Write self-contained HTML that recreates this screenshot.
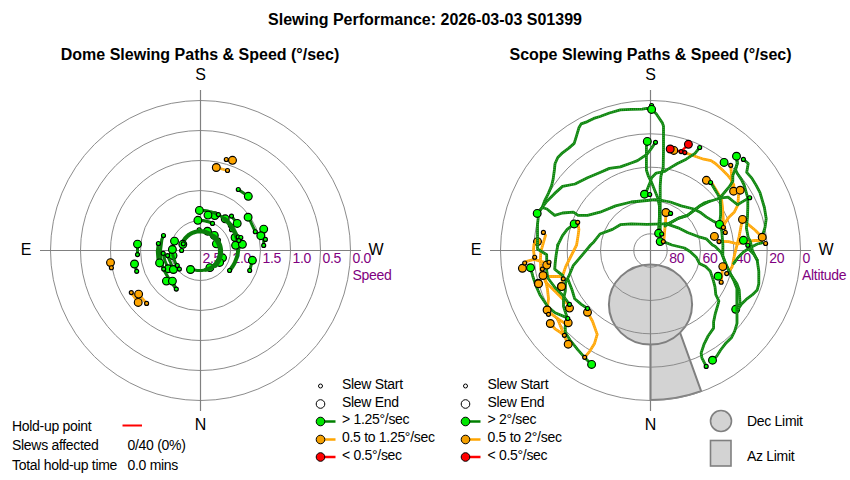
<!DOCTYPE html>
<html><head><meta charset="utf-8"><style>
html,body{margin:0;padding:0;background:#fff;}
svg{display:block;font-family:"Liberation Sans", Arial, sans-serif;}
</style></head><body>
<svg width="850" height="480" viewBox="0 0 850 480">
<rect width="850" height="480" fill="#fff"/>
<path d="M650.50,400.00 A149.5,149.5 0 0,0 701.14,391.16 L670.82,306.95 A60,60 0 0,1 650.50,310.50 Z" fill="#d3d3d3" stroke="#808080" stroke-width="2"/>
<ellipse cx="650.5" cy="304.5" rx="41.6" ry="40.1" fill="#d3d3d3" stroke="#808080" stroke-width="2"/>
<circle cx="200.5" cy="250.5" r="30" fill="none" stroke="#8c8c8c" stroke-width="1"/>
<circle cx="200.5" cy="250.5" r="60" fill="none" stroke="#8c8c8c" stroke-width="1"/>
<circle cx="200.5" cy="250.5" r="90" fill="none" stroke="#8c8c8c" stroke-width="1"/>
<circle cx="200.5" cy="250.5" r="120" fill="none" stroke="#8c8c8c" stroke-width="1"/>
<circle cx="200.5" cy="250.5" r="150" fill="none" stroke="#8c8c8c" stroke-width="1"/>
<line x1="40" y1="250.5" x2="361" y2="250.5" stroke="#808080" stroke-width="1.2"/>
<line x1="200.5" y1="90" x2="200.5" y2="411" stroke="#808080" stroke-width="1.2"/>
<circle cx="650.5" cy="250.5" r="16.7" fill="none" stroke="#8c8c8c" stroke-width="1"/>
<circle cx="650.5" cy="250.5" r="50" fill="none" stroke="#8c8c8c" stroke-width="1"/>
<circle cx="650.5" cy="250.5" r="83.3" fill="none" stroke="#8c8c8c" stroke-width="1"/>
<circle cx="650.5" cy="250.5" r="116.7" fill="none" stroke="#8c8c8c" stroke-width="1"/>
<circle cx="650.5" cy="250.5" r="150" fill="none" stroke="#8c8c8c" stroke-width="1"/>
<line x1="490" y1="250.5" x2="811" y2="250.5" stroke="#808080" stroke-width="1.2"/>
<line x1="650.5" y1="90" x2="650.5" y2="411" stroke="#808080" stroke-width="1.2"/>
<text x="425" y="25" font-size="16" fill="#000" font-weight="bold" text-anchor="middle" >Slewing Performance: 2026-03-03 S01399</text>
<text x="200" y="60" font-size="16" fill="#000" font-weight="bold" text-anchor="middle" >Dome Slewing Paths &amp; Speed (°/sec)</text>
<text x="650.5" y="60" font-size="16" fill="#000" font-weight="bold" text-anchor="middle" >Scope Slewing Paths &amp; Speed (°/sec)</text>
<text x="200.5" y="80" font-size="16" fill="#000" font-weight="normal" text-anchor="middle" >S</text>
<text x="200.5" y="430" font-size="16" fill="#000" font-weight="normal" text-anchor="middle" >N</text>
<text x="650.5" y="80" font-size="16" fill="#000" font-weight="normal" text-anchor="middle" >S</text>
<text x="650.5" y="430" font-size="16" fill="#000" font-weight="normal" text-anchor="middle" >N</text>
<text x="26" y="255" font-size="16" fill="#000" font-weight="normal" text-anchor="middle" >E</text>
<text x="376" y="255" font-size="16" fill="#000" font-weight="normal" text-anchor="middle" >W</text>
<text x="476" y="255" font-size="16" fill="#000" font-weight="normal" text-anchor="middle" >E</text>
<text x="826" y="255" font-size="16" fill="#000" font-weight="normal" text-anchor="middle" >W</text>
<text x="202.5" y="263" font-size="14" fill="#800080" font-weight="normal" text-anchor="start"  letter-spacing="-0.3">2.5</text>
<text x="232.5" y="263" font-size="14" fill="#800080" font-weight="normal" text-anchor="start"  letter-spacing="-0.3">2.0</text>
<text x="262.5" y="263" font-size="14" fill="#800080" font-weight="normal" text-anchor="start"  letter-spacing="-0.3">1.5</text>
<text x="292.5" y="263" font-size="14" fill="#800080" font-weight="normal" text-anchor="start"  letter-spacing="-0.3">1.0</text>
<text x="322.5" y="263" font-size="14" fill="#800080" font-weight="normal" text-anchor="start"  letter-spacing="-0.3">0.5</text>
<text x="352.5" y="263" font-size="14" fill="#800080" font-weight="normal" text-anchor="start"  letter-spacing="-0.3">0.0</text>
<text x="352.5" y="280" font-size="14" fill="#800080" font-weight="normal" text-anchor="start"  letter-spacing="-0.3">Speed</text>
<text x="669.2" y="263" font-size="14" fill="#800080" font-weight="normal" text-anchor="start"  letter-spacing="-0.3">80</text>
<text x="702.5" y="263" font-size="14" fill="#800080" font-weight="normal" text-anchor="start"  letter-spacing="-0.3">60</text>
<text x="735.8" y="263" font-size="14" fill="#800080" font-weight="normal" text-anchor="start"  letter-spacing="-0.3">40</text>
<text x="769.2" y="263" font-size="14" fill="#800080" font-weight="normal" text-anchor="start"  letter-spacing="-0.3">20</text>
<text x="802.5" y="263" font-size="14" fill="#800080" font-weight="normal" text-anchor="start"  letter-spacing="-0.3">0</text>
<text x="802" y="280" font-size="14" fill="#800080" font-weight="normal" text-anchor="start"  letter-spacing="-0.3">Altitude</text>
<circle cx="320.5" cy="386" r="2" fill="#fff" stroke="#000" stroke-width="1"/>
<circle cx="320.5" cy="404" r="4.3" fill="#fff" stroke="#000" stroke-width="1"/>
<line x1="320.5" y1="421.5" x2="335.5" y2="421.5" stroke="#008000" stroke-width="2.5"/>
<circle cx="320.5" cy="421.5" r="4.3" fill="#00e600" stroke="#000" stroke-width="1"/>
<line x1="320.5" y1="439.5" x2="335.5" y2="439.5" stroke="#ffa500" stroke-width="2.5"/>
<circle cx="320.5" cy="439.5" r="4.3" fill="#f5a000" stroke="#000" stroke-width="1"/>
<line x1="320.5" y1="457" x2="335.5" y2="457" stroke="#ff0000" stroke-width="2.5"/>
<circle cx="320.5" cy="457" r="4.3" fill="#ff0000" stroke="#000" stroke-width="1"/>
<text x="342" y="388.5" font-size="14" fill="#000" font-weight="normal" text-anchor="start"  letter-spacing="-0.3">Slew Start</text>
<text x="342" y="406.5" font-size="14" fill="#000" font-weight="normal" text-anchor="start"  letter-spacing="-0.3">Slew End</text>
<text x="342" y="424.0" font-size="14" fill="#000" font-weight="normal" text-anchor="start"  letter-spacing="-0.3">&gt; 1.25°/sec</text>
<text x="342" y="442.0" font-size="14" fill="#000" font-weight="normal" text-anchor="start"  letter-spacing="-0.3">0.5 to 1.25°/sec</text>
<text x="342" y="459.5" font-size="14" fill="#000" font-weight="normal" text-anchor="start"  letter-spacing="-0.3">&lt; 0.5°/sec</text>
<circle cx="465.5" cy="386" r="2" fill="#fff" stroke="#000" stroke-width="1"/>
<circle cx="465.5" cy="404" r="4.3" fill="#fff" stroke="#000" stroke-width="1"/>
<line x1="465.5" y1="421.5" x2="480.5" y2="421.5" stroke="#008000" stroke-width="2.5"/>
<circle cx="465.5" cy="421.5" r="4.3" fill="#00e600" stroke="#000" stroke-width="1"/>
<line x1="465.5" y1="439.5" x2="480.5" y2="439.5" stroke="#ffa500" stroke-width="2.5"/>
<circle cx="465.5" cy="439.5" r="4.3" fill="#f5a000" stroke="#000" stroke-width="1"/>
<line x1="465.5" y1="457" x2="480.5" y2="457" stroke="#ff0000" stroke-width="2.5"/>
<circle cx="465.5" cy="457" r="4.3" fill="#ff0000" stroke="#000" stroke-width="1"/>
<text x="487.5" y="388.5" font-size="14" fill="#000" font-weight="normal" text-anchor="start"  letter-spacing="-0.3">Slew Start</text>
<text x="487.5" y="406.5" font-size="14" fill="#000" font-weight="normal" text-anchor="start"  letter-spacing="-0.3">Slew End</text>
<text x="487.5" y="424.0" font-size="14" fill="#000" font-weight="normal" text-anchor="start"  letter-spacing="-0.3">&gt; 2°/sec</text>
<text x="487.5" y="442.0" font-size="14" fill="#000" font-weight="normal" text-anchor="start"  letter-spacing="-0.3">0.5 to 2°/sec</text>
<text x="487.5" y="459.5" font-size="14" fill="#000" font-weight="normal" text-anchor="start"  letter-spacing="-0.3">&lt; 0.5°/sec</text>
<circle cx="721" cy="421" r="10.5" fill="#d3d3d3" stroke="#808080" stroke-width="1.6"/>
<rect x="710.5" y="440.5" width="20.5" height="25.5" fill="#d3d3d3" stroke="#808080" stroke-width="1.6"/>
<text x="747" y="425.5" font-size="14" fill="#000" font-weight="normal" text-anchor="start"  letter-spacing="-0.3">Dec Limit</text>
<text x="747" y="461" font-size="14" fill="#000" font-weight="normal" text-anchor="start"  letter-spacing="-0.3">Az Limit</text>
<text x="12" y="430.5" font-size="14" fill="#000" font-weight="normal" text-anchor="start"  letter-spacing="-0.3">Hold-up point</text>
<line x1="122.5" y1="425.5" x2="142" y2="425.5" stroke="#ff0000" stroke-width="2"/>
<text x="12" y="450" font-size="14" fill="#000" font-weight="normal" text-anchor="start"  letter-spacing="-0.3">Slews affected</text>
<text x="127.5" y="450" font-size="14" fill="#000" font-weight="normal" text-anchor="start"  letter-spacing="-0.3">0/40 (0%)</text>
<text x="12" y="470" font-size="14" fill="#000" font-weight="normal" text-anchor="start"  letter-spacing="-0.3">Total hold-up time</text>
<text x="127.5" y="470" font-size="14" fill="#000" font-weight="normal" text-anchor="start"  letter-spacing="-0.3">0.0 mins</text>
<circle cx="651.6" cy="105.5" r="2" fill="#00ff00" stroke="#000" stroke-width="1.15"/>
<circle cx="199.2" cy="229.7" r="2" fill="#00ff00" stroke="#000" stroke-width="1.15"/>
<circle cx="218.4" cy="240.1" r="2" fill="#00ff00" stroke="#000" stroke-width="1.15"/>
<circle cx="208.7" cy="267.0" r="2" fill="#00ff00" stroke="#000" stroke-width="1.15"/>
<circle cx="230.4" cy="225.5" r="2" fill="#00ff00" stroke="#000" stroke-width="1.15"/>
<circle cx="231.5" cy="229.7" r="2" fill="#00ff00" stroke="#000" stroke-width="1.15"/>
<circle cx="173.0" cy="255.6" r="3.9" fill="#00ff00" stroke="#000" stroke-width="1.15"/>
<circle cx="207.5" cy="231.2" r="3.9" fill="#00ff00" stroke="#000" stroke-width="1.15"/>
<circle cx="214.3" cy="235.4" r="3.9" fill="#00ff00" stroke="#000" stroke-width="1.15"/>
<circle cx="216.4" cy="243.8" r="3.9" fill="#00ff00" stroke="#000" stroke-width="1.15"/>
<circle cx="222.5" cy="257.8" r="3.9" fill="#00ff00" stroke="#000" stroke-width="1.15"/>
<circle cx="219.6" cy="262.4" r="3.9" fill="#00ff00" stroke="#000" stroke-width="1.15"/>
<circle cx="209.9" cy="267.6" r="3.9" fill="#00ff00" stroke="#000" stroke-width="1.15"/>
<circle cx="225.2" cy="218.8" r="3.9" fill="#00ff00" stroke="#000" stroke-width="1.15"/>
<circle cx="235.1" cy="237.5" r="3.9" fill="#00ff00" stroke="#000" stroke-width="1.15"/>
<circle cx="214.8" cy="215.6" r="3.9" fill="#00ff00" stroke="#000" stroke-width="1.15"/>
<circle cx="537.5" cy="241.6" r="3.9" fill="#ffa500" stroke="#000" stroke-width="1.15"/>
<circle cx="735.7" cy="309.3" r="3.9" fill="#00ff00" stroke="#000" stroke-width="1.15"/>
<polyline points="216.3,167.5 227.5,170.5" fill="none" stroke="#ffa500" stroke-width="2.8" stroke-linecap="round" stroke-linejoin="round"/><polyline points="216.3,167.5 227.5,170.5" fill="none" stroke="#ffd27a" stroke-opacity="0.55" stroke-width="1.7999999999999998" stroke-dasharray="0.7 1.3"/>
<polyline points="226.3,159.5 232.5,160.3" fill="none" stroke="#ffa500" stroke-width="2.8" stroke-linecap="round" stroke-linejoin="round"/><polyline points="226.3,159.5 232.5,160.3" fill="none" stroke="#ffd27a" stroke-opacity="0.55" stroke-width="1.7999999999999998" stroke-dasharray="0.7 1.3"/>
<polyline points="131.3,292.6 138.2,302.4" fill="none" stroke="#ffa500" stroke-width="2.8" stroke-linecap="round" stroke-linejoin="round"/><polyline points="131.3,292.6 138.2,302.4" fill="none" stroke="#ffd27a" stroke-opacity="0.55" stroke-width="1.7999999999999998" stroke-dasharray="0.7 1.3"/>
<polyline points="138.6,294.1 146.6,303.4" fill="none" stroke="#ffa500" stroke-width="2.8" stroke-linecap="round" stroke-linejoin="round"/><polyline points="138.6,294.1 146.6,303.4" fill="none" stroke="#ffd27a" stroke-opacity="0.55" stroke-width="1.7999999999999998" stroke-dasharray="0.7 1.3"/>
<polyline points="110.5,262.6 111.4,267.7" fill="none" stroke="#ffa500" stroke-width="2.8" stroke-linecap="round" stroke-linejoin="round"/><polyline points="110.5,262.6 111.4,267.7" fill="none" stroke="#ffd27a" stroke-opacity="0.55" stroke-width="1.7999999999999998" stroke-dasharray="0.7 1.3"/>
<polyline points="684.8,152.6 695.0,156.2 703.7,159.2 711.0,160.6 715.4,163.5 722.5,170.0 727.2,174.7 731.0,179.4 733.8,185.0 734.2,191.4" fill="none" stroke="#ffa500" stroke-width="2.8" stroke-linecap="round" stroke-linejoin="round"/><polyline points="684.8,152.6 695.0,156.2 703.7,159.2 711.0,160.6 715.4,163.5 722.5,170.0 727.2,174.7 731.0,179.4 733.8,185.0 734.2,191.4" fill="none" stroke="#ffd27a" stroke-opacity="0.55" stroke-width="1.7999999999999998" stroke-dasharray="0.7 1.3"/>
<polyline points="730.7,165.3 731.4,173.7 732.2,185.4 733.6,191.2" fill="none" stroke="#ffa500" stroke-width="2.8" stroke-linecap="round" stroke-linejoin="round"/><polyline points="730.7,165.3 731.4,173.7 732.2,185.4 733.6,191.2" fill="none" stroke="#ffd27a" stroke-opacity="0.55" stroke-width="1.7999999999999998" stroke-dasharray="0.7 1.3"/>
<polyline points="740.3,190.5 738.5,195.3 738.0,202.8 737.8,205.0 734.4,211.9 728.6,217.6 724.0,224.5 723.5,227.3" fill="none" stroke="#ffa500" stroke-width="2.8" stroke-linecap="round" stroke-linejoin="round"/><polyline points="740.3,190.5 738.5,195.3 738.0,202.8 737.8,205.0 734.4,211.9 728.6,217.6 724.0,224.5 723.5,227.3" fill="none" stroke="#ffd27a" stroke-opacity="0.55" stroke-width="1.7999999999999998" stroke-dasharray="0.7 1.3"/>
<polyline points="712.5,184.0 718.8,194.4 721.6,200.0 722.5,207.5 723.0,215.0 723.4,222.0 725.8,232.5" fill="none" stroke="#ffa500" stroke-width="2.8" stroke-linecap="round" stroke-linejoin="round"/><polyline points="712.5,184.0 718.8,194.4 721.6,200.0 722.5,207.5 723.0,215.0 723.4,222.0 725.8,232.5" fill="none" stroke="#ffd27a" stroke-opacity="0.55" stroke-width="1.7999999999999998" stroke-dasharray="0.7 1.3"/>
<polyline points="742.5,219.4 747.5,223.8 755.0,230.0 762.2,237.2" fill="none" stroke="#ffa500" stroke-width="2.8" stroke-linecap="round" stroke-linejoin="round"/><polyline points="742.5,219.4 747.5,223.8 755.0,230.0 762.2,237.2" fill="none" stroke="#ffd27a" stroke-opacity="0.55" stroke-width="1.7999999999999998" stroke-dasharray="0.7 1.3"/>
<polyline points="742.4,219.3 740.7,227.9 739.0,237.1 736.7,246.2 734.4,255.4 732.2,266.6 727.5,273.6" fill="none" stroke="#ffa500" stroke-width="2.8" stroke-linecap="round" stroke-linejoin="round"/><polyline points="742.4,219.3 740.7,227.9 739.0,237.1 736.7,246.2 734.4,255.4 732.2,266.6 727.5,273.6" fill="none" stroke="#ffd27a" stroke-opacity="0.55" stroke-width="1.7999999999999998" stroke-dasharray="0.7 1.3"/>
<polyline points="719.5,241.4 728.6,241.7 737.8,244.0 745.8,241.7 755.0,240.5 761.9,240.5" fill="none" stroke="#ffa500" stroke-width="2.8" stroke-linecap="round" stroke-linejoin="round"/><polyline points="719.5,241.4 728.6,241.7 737.8,244.0 745.8,241.7 755.0,240.5 761.9,240.5" fill="none" stroke="#ffd27a" stroke-opacity="0.55" stroke-width="1.7999999999999998" stroke-dasharray="0.7 1.3"/>
<polyline points="722.8,266.6 721.2,282.2" fill="none" stroke="#ffa500" stroke-width="2.8" stroke-linecap="round" stroke-linejoin="round"/><polyline points="722.8,266.6 721.2,282.2" fill="none" stroke="#ffd27a" stroke-opacity="0.55" stroke-width="1.7999999999999998" stroke-dasharray="0.7 1.3"/>
<polyline points="665.9,212.5 665.6,221.6 664.8,229.4 664.0,238.8 663.3,241.6" fill="none" stroke="#ffa500" stroke-width="2.8" stroke-linecap="round" stroke-linejoin="round"/><polyline points="665.9,212.5 665.6,221.6 664.8,229.4 664.0,238.8 663.3,241.6" fill="none" stroke="#ffd27a" stroke-opacity="0.55" stroke-width="1.7999999999999998" stroke-dasharray="0.7 1.3"/>
<polyline points="577.7,222.3 578.9,229.4 578.1,235.6 576.6,245.0 570.3,257.5 565.6,266.9 562.5,276.2 561.6,286.6" fill="none" stroke="#ffa500" stroke-width="2.8" stroke-linecap="round" stroke-linejoin="round"/><polyline points="577.7,222.3 578.9,229.4 578.1,235.6 576.6,245.0 570.3,257.5 565.6,266.9 562.5,276.2 561.6,286.6" fill="none" stroke="#ffd27a" stroke-opacity="0.55" stroke-width="1.7999999999999998" stroke-dasharray="0.7 1.3"/>
<polyline points="543.4,232.4 545.5,235.3 543.2,243.3 540.9,251.3 540.4,259.4 540.9,270.8 545.6,281.9 555.0,291.2 562.5,298.8 568.2,304.4 569.5,308.1" fill="none" stroke="#ffa500" stroke-width="2.8" stroke-linecap="round" stroke-linejoin="round"/><polyline points="543.4,232.4 545.5,235.3 543.2,243.3 540.9,251.3 540.4,259.4 540.9,270.8 545.6,281.9 555.0,291.2 562.5,298.8 568.2,304.4 569.5,308.1" fill="none" stroke="#ffd27a" stroke-opacity="0.55" stroke-width="1.7999999999999998" stroke-dasharray="0.7 1.3"/>
<polyline points="545.6,280.0 547.5,289.4 548.5,298.8 547.1,310.0" fill="none" stroke="#ffa500" stroke-width="2.8" stroke-linecap="round" stroke-linejoin="round"/><polyline points="545.6,280.0 547.5,289.4 548.5,298.8 547.1,310.0" fill="none" stroke="#ffd27a" stroke-opacity="0.55" stroke-width="1.7999999999999998" stroke-dasharray="0.7 1.3"/>
<polyline points="534.4,257.4 533.5,250.0 534.0,244.5" fill="none" stroke="#ffa500" stroke-width="2.8" stroke-linecap="round" stroke-linejoin="round"/><polyline points="534.4,257.4 533.5,250.0 534.0,244.5" fill="none" stroke="#ffd27a" stroke-opacity="0.55" stroke-width="1.7999999999999998" stroke-dasharray="0.7 1.3"/>
<polyline points="526.0,261.7 534.0,259.4 542.0,261.7 547.8,262.8" fill="none" stroke="#ffa500" stroke-width="2.8" stroke-linecap="round" stroke-linejoin="round"/><polyline points="526.0,261.7 534.0,259.4 542.0,261.7 547.8,262.8" fill="none" stroke="#ffd27a" stroke-opacity="0.55" stroke-width="1.7999999999999998" stroke-dasharray="0.7 1.3"/>
<polyline points="547.8,276.5 562.7,276.5" fill="none" stroke="#ffa500" stroke-width="2.8" stroke-linecap="round" stroke-linejoin="round"/><polyline points="547.8,276.5 562.7,276.5" fill="none" stroke="#ffd27a" stroke-opacity="0.55" stroke-width="1.7999999999999998" stroke-dasharray="0.7 1.3"/>
<polyline points="550.3,323.5 555.0,328.8 560.6,332.5 564.4,335.3" fill="none" stroke="#ffa500" stroke-width="2.8" stroke-linecap="round" stroke-linejoin="round"/><polyline points="550.3,323.5 555.0,328.8 560.6,332.5 564.4,335.3" fill="none" stroke="#ffd27a" stroke-opacity="0.55" stroke-width="1.7999999999999998" stroke-dasharray="0.7 1.3"/>
<polyline points="551.3,313.8 558.8,319.4 564.4,323.0 568.2,322.8" fill="none" stroke="#ffa500" stroke-width="2.8" stroke-linecap="round" stroke-linejoin="round"/><polyline points="551.3,313.8 558.8,319.4 564.4,323.0 568.2,322.8" fill="none" stroke="#ffd27a" stroke-opacity="0.55" stroke-width="1.7999999999999998" stroke-dasharray="0.7 1.3"/>
<polyline points="557.8,319.4 561.6,328.8 565.3,338.2 568.2,344.2" fill="none" stroke="#ffa500" stroke-width="2.8" stroke-linecap="round" stroke-linejoin="round"/><polyline points="557.8,319.4 561.6,328.8 565.3,338.2 568.2,344.2" fill="none" stroke="#ffd27a" stroke-opacity="0.55" stroke-width="1.7999999999999998" stroke-dasharray="0.7 1.3"/>
<polyline points="587.5,312.3 592.5,321.3 597.2,334.4 594.4,343.8 589.7,351.3 584.7,357.3" fill="none" stroke="#ffa500" stroke-width="2.8" stroke-linecap="round" stroke-linejoin="round"/><polyline points="587.5,312.3 592.5,321.3 597.2,334.4 594.4,343.8 589.7,351.3 584.7,357.3" fill="none" stroke="#ffd27a" stroke-opacity="0.55" stroke-width="1.7999999999999998" stroke-dasharray="0.7 1.3"/>
<polyline points="681.1,151.6 688.4,144.3" fill="none" stroke="#ff0000" stroke-width="2.5" stroke-linecap="round" stroke-linejoin="round"/>
<polyline points="670.2,149.0 681.1,151.6" fill="none" stroke="#ff0000" stroke-width="2.5" stroke-linecap="round" stroke-linejoin="round"/>
<polyline points="183.4,241.2 184.0,240.1 184.7,239.1 185.5,238.1 186.4,237.2 187.3,236.3 188.2,235.5 189.2,234.7 190.3,234.0 191.4,233.4 192.5,232.9 193.7,232.4 194.9,232.0 196.1,231.7 197.3,231.5 198.6,231.3 199.8,231.3 201.1,231.3 202.3,231.4 203.5,231.6 204.8,231.8 206.0,232.1 207.1,232.6 208.3,233.0 209.4,233.6 210.4,234.2 211.5,234.9 212.4,235.7 213.4,236.5 214.2,237.4 215.1,238.3" fill="none" stroke="#0a7d0a" stroke-width="4.2" stroke-linecap="round" stroke-linejoin="round"/>
<polyline points="214.1,236.9 214.8,237.6 215.5,238.3 216.2,239.1 216.8,239.9 217.4,240.8 217.9,241.6 218.4,242.5 218.8,243.5 219.2,244.4 219.6,245.4 219.9,246.4 220.1,247.4 220.3,248.4 220.4,249.5 220.5,250.5 220.5,251.5 220.5,252.6 220.4,253.7 220.3,254.7 220.1,255.7 219.8,256.8 219.5,257.8 219.2,258.8 218.7,259.8 218.3,260.8 217.8,261.7 217.2,262.6 216.6,263.5 215.9,264.4 215.2,265.2" fill="none" stroke="#0a7d0a" stroke-width="5.2" stroke-linecap="round" stroke-linejoin="round"/>
<polyline points="216.2,263.7 215.9,264.0 215.6,264.3 215.3,264.6 215.0,264.9 214.7,265.1 214.4,265.4 214.1,265.7 213.8,265.9 213.4,266.2 213.1,266.4 212.8,266.7 212.4,266.9 212.1,267.1 211.7,267.4 211.4,267.6 211.0,267.8 210.7,268.0 210.3,268.2 209.9,268.3 209.6,268.5 209.2,268.7 208.8,268.8 208.4,269.0 208.0,269.1 207.6,269.3 207.3,269.4 206.9,269.5 206.5,269.6 206.1,269.7 205.7,269.8" fill="none" stroke="#0a7d0a" stroke-width="4" stroke-linecap="round" stroke-linejoin="round"/>
<polyline points="207.3,269.1 206.8,269.3 206.2,269.5 205.7,269.7 205.2,269.8 204.7,270.0 204.1,270.1 203.6,270.2 203.0,270.3 202.5,270.4 201.9,270.5 201.4,270.5 200.8,270.6 200.2,270.6 199.7,270.6 199.1,270.6 198.6,270.6 198.0,270.5 197.4,270.5 196.9,270.4 196.3,270.3 195.8,270.2 195.2,270.1 194.7,270.0 194.1,269.8 193.6,269.7 193.0,269.5 192.5,269.3 192.0,269.1 191.5,268.9 190.9,268.6" fill="none" stroke="#0a7d0a" stroke-width="3" stroke-linecap="round" stroke-linejoin="round"/>
<polyline points="203.3,210.4 204.1,210.5 205.0,210.6 205.8,210.7 206.6,210.8 207.5,211.0 208.3,211.2 209.1,211.4 209.9,211.6 210.7,211.8 211.5,212.0 212.3,212.3 213.1,212.5 213.9,212.8 214.7,213.1 215.5,213.5 216.2,213.8 217.0,214.1 217.7,214.5 218.5,214.9 219.2,215.3 219.9,215.7 220.7,216.1 221.4,216.6 222.1,217.0 222.7,217.5 223.4,218.0 224.1,218.5 224.7,219.0 225.4,219.5 226.0,220.1" fill="none" stroke="#0a7d0a" stroke-width="3" stroke-linecap="round" stroke-linejoin="round"/>
<polyline points="224.9,219.2 225.8,219.9 226.5,220.7 227.3,221.4 228.1,222.2 228.8,223.0 229.5,223.9 230.1,224.7 230.8,225.6 231.4,226.4 232.0,227.3 232.6,228.2 233.2,229.1 233.7,230.1 234.2,231.0 234.6,232.0 235.1,232.9 235.5,233.9 235.9,234.9 236.3,235.9 236.6,236.9 236.9,237.9 237.2,238.9 237.4,239.9 237.6,241.0 237.8,242.0 238.0,243.0 238.1,244.1 238.2,245.1 238.3,246.1 238.4,247.2" fill="none" stroke="#0a7d0a" stroke-width="4.6" stroke-linecap="round" stroke-linejoin="round"/>
<polyline points="238.4,247.2 238.3,248.1 238.3,248.9 238.2,249.8 238.1,250.7 238.0,251.5 237.9,252.4 237.8,253.2 237.6,254.1 237.4,254.9 237.2,255.8 237.0,256.6 236.8,257.4 236.5,258.2 236.2,259.0 235.9,259.8 235.6,260.6 235.3,261.4 235.0,262.2 234.6,262.9 234.2,263.7 233.8,264.4 233.4,265.1 233.0,265.8 232.5,266.5 232.1,267.2 231.6,267.9 231.1,268.6 230.6,269.2 230.1,269.9 229.6,270.5" fill="none" stroke="#0a7d0a" stroke-width="4" stroke-linecap="round" stroke-linejoin="round"/>
<polyline points="197.9,220.4 198.4,220.4 198.9,220.4 199.4,220.4 199.9,220.4 200.4,220.4 201.0,220.4 201.5,220.5 202.0,220.5 202.5,220.5 203.0,220.6 203.5,220.7 204.0,220.7 204.4,220.8 204.9,220.9 205.4,221.0 205.9,221.1 206.4,221.2 206.9,221.4 207.4,221.5 207.9,221.6 208.3,221.8 208.8,221.9 209.3,222.1 209.8,222.3 210.2,222.4 210.7,222.6 211.1,222.8 211.6,223.0 212.0,223.2 212.5,223.4" fill="none" stroke="#0a7d0a" stroke-width="3.2" stroke-linecap="round" stroke-linejoin="round"/>
<polyline points="238.3,189.5 248.3,196.3" fill="none" stroke="#0a7d0a" stroke-width="3" stroke-linecap="round" stroke-linejoin="round"/>
<polyline points="248.6,217.3 255.3,231.7" fill="none" stroke="#0a7d0a" stroke-width="3" stroke-linecap="round" stroke-linejoin="round"/>
<polyline points="263.7,229.1 263.7,245.4" fill="none" stroke="#0a7d0a" stroke-width="3" stroke-linecap="round" stroke-linejoin="round"/>
<polyline points="260.8,235.7 265.4,239.4" fill="none" stroke="#0a7d0a" stroke-width="3" stroke-linecap="round" stroke-linejoin="round"/>
<polyline points="231.5,216.1 237.2,223.4" fill="none" stroke="#0a7d0a" stroke-width="3" stroke-linecap="round" stroke-linejoin="round"/>
<polyline points="252.4,260.3 249.7,270.5" fill="none" stroke="#0a7d0a" stroke-width="3" stroke-linecap="round" stroke-linejoin="round"/>
<polyline points="137.5,244.1 137.5,254.6" fill="none" stroke="#0a7d0a" stroke-width="3" stroke-linecap="round" stroke-linejoin="round"/>
<polyline points="134.5,264.0 136.7,271.3" fill="none" stroke="#0a7d0a" stroke-width="3" stroke-linecap="round" stroke-linejoin="round"/>
<polyline points="163.5,235.5 161.8,239.6 160.3,251.2 161.0,261.4 163.2,268.7 169.0,279.0 176.3,289.1" fill="none" stroke="#0a7d0a" stroke-width="3.2" stroke-linecap="round" stroke-linejoin="round"/>
<polyline points="158.4,243.5 157.4,251.2 158.1,260.0 159.6,262.9" fill="none" stroke="#0a7d0a" stroke-width="3.2" stroke-linecap="round" stroke-linejoin="round"/>
<polyline points="163.2,253.4 165.0,261.0 168.3,268.7" fill="none" stroke="#0a7d0a" stroke-width="3" stroke-linecap="round" stroke-linejoin="round"/>
<polyline points="167.6,255.6 170.5,262.5 173.4,269.5" fill="none" stroke="#0a7d0a" stroke-width="3" stroke-linecap="round" stroke-linejoin="round"/>
<polyline points="172.7,254.9 175.0,262.0 178.8,268.7" fill="none" stroke="#0a7d0a" stroke-width="3" stroke-linecap="round" stroke-linejoin="round"/>
<polyline points="172.4,281.1 176.5,289.7" fill="none" stroke="#0a7d0a" stroke-width="3" stroke-linecap="round" stroke-linejoin="round"/>
<polyline points="174.5,241.1 172.4,249.0" fill="none" stroke="#0a7d0a" stroke-width="3" stroke-linecap="round" stroke-linejoin="round"/>
<polyline points="651.6,109.4 646.9,108.3 642.2,109.1 631.2,109.4 620.3,109.8 609.4,113.0 600.0,116.5 593.8,118.4 587.5,121.6 581.2,123.9 578.9,127.8 576.6,135.6 574.2,143.4 568.8,148.1 562.5,152.8 557.8,157.5 555.0,163.8 554.4,170.0 553.1,179.4 551.6,185.6 548.4,193.4 544.5,201.2 542.2,207.5 539.8,210.6 538.3,216.9 537.5,224.7 537.5,235.6 537.5,249.0 546.7,254.8 546.7,259.4 546.7,270.8 547.8,278.0 555.0,287.5 562.5,295.0 568.2,302.5 569.5,304.4" fill="none" stroke="#0b840b" stroke-width="2.8" stroke-linecap="round" stroke-linejoin="round"/><polyline points="651.6,109.4 646.9,108.3 642.2,109.1 631.2,109.4 620.3,109.8 609.4,113.0 600.0,116.5 593.8,118.4 587.5,121.6 581.2,123.9 578.9,127.8 576.6,135.6 574.2,143.4 568.8,148.1 562.5,152.8 557.8,157.5 555.0,163.8 554.4,170.0 553.1,179.4 551.6,185.6 548.4,193.4 544.5,201.2 542.2,207.5 539.8,210.6 538.3,216.9 537.5,224.7 537.5,235.6 537.5,249.0 546.7,254.8 546.7,259.4 546.7,270.8 547.8,278.0 555.0,287.5 562.5,295.0 568.2,302.5 569.5,304.4" fill="none" stroke="#6cc06c" stroke-opacity="0.55" stroke-width="1.7999999999999998" stroke-dasharray="0.7 1.3"/>
<polyline points="537.2,213.4 542.2,207.5 546.9,201.2 554.7,193.4 562.5,186.4 575.0,184.0 587.5,177.8 600.0,172.5 609.4,168.4 620.3,166.9 631.2,163.0 637.5,160.6 646.9,154.4 651.6,148.1 655.5,142.3" fill="none" stroke="#0b840b" stroke-width="2.8" stroke-linecap="round" stroke-linejoin="round"/><polyline points="537.2,213.4 542.2,207.5 546.9,201.2 554.7,193.4 562.5,186.4 575.0,184.0 587.5,177.8 600.0,172.5 609.4,168.4 620.3,166.9 631.2,163.0 637.5,160.6 646.9,154.4 651.6,148.1 655.5,142.3" fill="none" stroke="#6cc06c" stroke-opacity="0.55" stroke-width="1.7999999999999998" stroke-dasharray="0.7 1.3"/>
<polyline points="542.2,207.5 546.9,209.0 554.7,215.3 562.5,213.0 573.4,212.2 578.1,215.3 587.5,215.3 600.0,212.2 615.6,205.9 631.2,202.0 646.9,200.5 654.7,199.7 662.5,200.5 670.3,202.0 681.2,205.9 693.8,209.0 700.0,212.2 706.2,216.9 714.0,221.6 719.5,224.4" fill="none" stroke="#0b840b" stroke-width="2.8" stroke-linecap="round" stroke-linejoin="round"/><polyline points="542.2,207.5 546.9,209.0 554.7,215.3 562.5,213.0 573.4,212.2 578.1,215.3 587.5,215.3 600.0,212.2 615.6,205.9 631.2,202.0 646.9,200.5 654.7,199.7 662.5,200.5 670.3,202.0 681.2,205.9 693.8,209.0 700.0,212.2 706.2,216.9 714.0,221.6 719.5,224.4" fill="none" stroke="#6cc06c" stroke-opacity="0.55" stroke-width="1.7999999999999998" stroke-dasharray="0.7 1.3"/>
<polyline points="651.6,109.4 656.2,113.8 662.5,123.1 663.5,126.2 663.5,150.0 663.2,168.0 660.9,176.2 660.2,185.6 660.2,198.1 660.2,215.0 660.2,238.0" fill="none" stroke="#0b840b" stroke-width="2.8" stroke-linecap="round" stroke-linejoin="round"/><polyline points="651.6,109.4 656.2,113.8 662.5,123.1 663.5,126.2 663.5,150.0 663.2,168.0 660.9,176.2 660.2,185.6 660.2,198.1 660.2,215.0 660.2,238.0" fill="none" stroke="#6cc06c" stroke-opacity="0.55" stroke-width="1.7999999999999998" stroke-dasharray="0.7 1.3"/>
<polyline points="647.3,141.4 646.4,146.6 646.4,170.0 648.4,176.2 651.6,182.5 654.7,190.3 657.8,198.1 659.4,205.9 659.4,216.9 658.6,229.4 658.6,233.3" fill="none" stroke="#0b840b" stroke-width="2.8" stroke-linecap="round" stroke-linejoin="round"/><polyline points="647.3,141.4 646.4,146.6 646.4,170.0 648.4,176.2 651.6,182.5 654.7,190.3 657.8,198.1 659.4,205.9 659.4,216.9 658.6,229.4 658.6,233.3" fill="none" stroke="#6cc06c" stroke-opacity="0.55" stroke-width="1.7999999999999998" stroke-dasharray="0.7 1.3"/>
<polyline points="699.7,147.5 695.0,153.3 686.2,159.2 677.5,163.5 668.8,168.6 664.4,171.5 656.2,173.1 651.6,177.8 650.0,182.5 646.9,190.3 644.5,194.2" fill="none" stroke="#0b840b" stroke-width="2.8" stroke-linecap="round" stroke-linejoin="round"/><polyline points="699.7,147.5 695.0,153.3 686.2,159.2 677.5,163.5 668.8,168.6 664.4,171.5 656.2,173.1 651.6,177.8 650.0,182.5 646.9,190.3 644.5,194.2" fill="none" stroke="#6cc06c" stroke-opacity="0.55" stroke-width="1.7999999999999998" stroke-dasharray="0.7 1.3"/>
<polyline points="736.5,156.2 737.3,163.5 735.6,170.0 737.5,173.8 741.3,179.4 744.1,185.0 746.0,191.6 747.8,198.1 747.8,207.5 747.5,216.5 746.4,227.9 748.1,237.1 750.4,241.7 752.5,251.0 757.2,260.3 758.8,271.2 758.8,283.8 757.2,290.0 752.5,294.7 746.2,299.4 741.6,304.0 738.4,308.8" fill="none" stroke="#0b840b" stroke-width="2.8" stroke-linecap="round" stroke-linejoin="round"/><polyline points="736.5,156.2 737.3,163.5 735.6,170.0 737.5,173.8 741.3,179.4 744.1,185.0 746.0,191.6 747.8,198.1 747.8,207.5 747.5,216.5 746.4,227.9 748.1,237.1 750.4,241.7 752.5,251.0 757.2,260.3 758.8,271.2 758.8,283.8 757.2,290.0 752.5,294.7 746.2,299.4 741.6,304.0 738.4,308.8" fill="none" stroke="#6cc06c" stroke-opacity="0.55" stroke-width="1.7999999999999998" stroke-dasharray="0.7 1.3"/>
<polyline points="736.5,156.2 737.3,163.5 732.8,175.6 732.8,181.3 729.1,186.9 724.4,192.5 719.7,198.1 714.0,200.0 704.7,202.8 700.0,205.6 687.5,215.3 678.1,218.4 668.8,223.5 662.5,223.9 646.9,224.4 631.2,223.9 620.3,224.7 612.5,229.4 600.0,234.0 593.8,241.9 590.6,245.0 582.8,254.4 573.4,265.3 568.8,276.2 565.6,282.5 565.3,291.2 563.5,298.8 563.5,306.2 566.0,314.0 567.8,318.5 565.3,325.0 565.3,332.5 570.0,340.0 577.5,349.4 585.0,357.9 591.6,364.4" fill="none" stroke="#0b840b" stroke-width="2.8" stroke-linecap="round" stroke-linejoin="round"/><polyline points="736.5,156.2 737.3,163.5 732.8,175.6 732.8,181.3 729.1,186.9 724.4,192.5 719.7,198.1 714.0,200.0 704.7,202.8 700.0,205.6 687.5,215.3 678.1,218.4 668.8,223.5 662.5,223.9 646.9,224.4 631.2,223.9 620.3,224.7 612.5,229.4 600.0,234.0 593.8,241.9 590.6,245.0 582.8,254.4 573.4,265.3 568.8,276.2 565.6,282.5 565.3,291.2 563.5,298.8 563.5,306.2 566.0,314.0 567.8,318.5 565.3,325.0 565.3,332.5 570.0,340.0 577.5,349.4 585.0,357.9 591.6,364.4" fill="none" stroke="#6cc06c" stroke-opacity="0.55" stroke-width="1.7999999999999998" stroke-dasharray="0.7 1.3"/>
<polyline points="743.4,159.4 748.2,163.5 746.7,172.3 751.8,178.1 756.2,185.4 760.0,192.7 762.5,201.2 764.4,207.5 766.2,218.8 765.0,227.5 763.0,233.8 762.2,237.2" fill="none" stroke="#0b840b" stroke-width="2.8" stroke-linecap="round" stroke-linejoin="round"/><polyline points="743.4,159.4 748.2,163.5 746.7,172.3 751.8,178.1 756.2,185.4 760.0,192.7 762.5,201.2 764.4,207.5 766.2,218.8 765.0,227.5 763.0,233.8 762.2,237.2" fill="none" stroke="#6cc06c" stroke-opacity="0.55" stroke-width="1.7999999999999998" stroke-dasharray="0.7 1.3"/>
<polyline points="668.8,224.7 678.1,227.8 687.5,232.5 700.0,237.2 706.2,238.8 712.5,245.0 715.0,246.2 721.2,252.5 724.4,260.3 729.1,271.2 733.8,280.6 736.9,288.4 736.9,299.4 736.9,308.8 737.0,315.6 737.0,323.4 734.7,331.2 731.6,337.5 725.3,343.8 720.6,350.0 716.7,356.2 712.5,360.2" fill="none" stroke="#0b840b" stroke-width="2.8" stroke-linecap="round" stroke-linejoin="round"/><polyline points="668.8,224.7 678.1,227.8 687.5,232.5 700.0,237.2 706.2,238.8 712.5,245.0 715.0,246.2 721.2,252.5 724.4,260.3 729.1,271.2 733.8,280.6 736.9,288.4 736.9,299.4 736.9,308.8 737.0,315.6 737.0,323.4 734.7,331.2 731.6,337.5 725.3,343.8 720.6,350.0 716.7,356.2 712.5,360.2" fill="none" stroke="#6cc06c" stroke-opacity="0.55" stroke-width="1.7999999999999998" stroke-dasharray="0.7 1.3"/>
<polyline points="663.3,241.6 671.9,245.0 684.4,248.0 690.0,251.5 696.2,257.2 699.4,263.4 705.6,266.6 710.3,271.2 713.4,280.6 715.0,286.9 715.8,294.7 718.9,301.0 717.5,306.2 715.2,314.0 713.6,321.9 713.6,328.1 708.1,336.0 704.2,343.8 701.1,353.1 701.9,357.8 706.2,366.4" fill="none" stroke="#0b840b" stroke-width="2.8" stroke-linecap="round" stroke-linejoin="round"/><polyline points="663.3,241.6 671.9,245.0 684.4,248.0 690.0,251.5 696.2,257.2 699.4,263.4 705.6,266.6 710.3,271.2 713.4,280.6 715.0,286.9 715.8,294.7 718.9,301.0 717.5,306.2 715.2,314.0 713.6,321.9 713.6,328.1 708.1,336.0 704.2,343.8 701.1,353.1 701.9,357.8 706.2,366.4" fill="none" stroke="#6cc06c" stroke-opacity="0.55" stroke-width="1.7999999999999998" stroke-dasharray="0.7 1.3"/>
<polyline points="710.5,182.5 712.2,185.0 715.0,189.7 717.8,194.4 720.2,199.1 720.6,207.5 720.6,215.0 719.5,224.5 721.8,231.3 722.9,245.1 722.8,255.6 725.9,265.0 730.6,274.4 736.9,283.8 739.2,290.0 740.0,302.5 738.0,310.0" fill="none" stroke="#0b840b" stroke-width="2.8" stroke-linecap="round" stroke-linejoin="round"/><polyline points="710.5,182.5 712.2,185.0 715.0,189.7 717.8,194.4 720.2,199.1 720.6,207.5 720.6,215.0 719.5,224.5 721.8,231.3 722.9,245.1 722.8,255.6 725.9,265.0 730.6,274.4 736.9,283.8 739.2,290.0 740.0,302.5 738.0,310.0" fill="none" stroke="#6cc06c" stroke-opacity="0.55" stroke-width="1.7999999999999998" stroke-dasharray="0.7 1.3"/>
<polyline points="719.7,198.1 728.1,197.2 732.8,201.0 737.5,204.7 742.2,201.9 746.9,199.1 749.2,197.7" fill="none" stroke="#0b840b" stroke-width="2.8" stroke-linecap="round" stroke-linejoin="round"/><polyline points="719.7,198.1 728.1,197.2 732.8,201.0 737.5,204.7 742.2,201.9 746.9,199.1 749.2,197.7" fill="none" stroke="#6cc06c" stroke-opacity="0.55" stroke-width="1.7999999999999998" stroke-dasharray="0.7 1.3"/>
<polyline points="665.0,226.0 678.1,218.4 687.5,215.3 700.0,206.0 709.4,201.2" fill="none" stroke="#0b840b" stroke-width="2.8" stroke-linecap="round" stroke-linejoin="round"/><polyline points="665.0,226.0 678.1,218.4 687.5,215.3 700.0,206.0 709.4,201.2" fill="none" stroke="#6cc06c" stroke-opacity="0.55" stroke-width="1.7999999999999998" stroke-dasharray="0.7 1.3"/>
<polyline points="733.8,263.4 737.8,257.7 743.5,252.0 750.4,247.4 757.3,244.0 761.9,242.8" fill="none" stroke="#0b840b" stroke-width="2.8" stroke-linecap="round" stroke-linejoin="round"/><polyline points="733.8,263.4 737.8,257.7 743.5,252.0 750.4,247.4 757.3,244.0 761.9,242.8" fill="none" stroke="#6cc06c" stroke-opacity="0.55" stroke-width="1.7999999999999998" stroke-dasharray="0.7 1.3"/>
<polyline points="747.5,245.3 748.1,248.5 753.8,254.3 757.3,260.0" fill="none" stroke="#0b840b" stroke-width="2.8" stroke-linecap="round" stroke-linejoin="round"/><polyline points="747.5,245.3 748.1,248.5 753.8,254.3 757.3,260.0" fill="none" stroke="#6cc06c" stroke-opacity="0.55" stroke-width="1.7999999999999998" stroke-dasharray="0.7 1.3"/>
<polyline points="530.5,267.7 532.8,276.2 535.9,285.6 540.0,295.0 547.5,306.2 555.0,312.8 564.4,316.6 567.8,318.5" fill="none" stroke="#0b840b" stroke-width="2.8" stroke-linecap="round" stroke-linejoin="round"/><polyline points="530.5,267.7 532.8,276.2 535.9,285.6 540.0,295.0 547.5,306.2 555.0,312.8 564.4,316.6 567.8,318.5" fill="none" stroke="#6cc06c" stroke-opacity="0.55" stroke-width="1.7999999999999998" stroke-dasharray="0.7 1.3"/>
<polyline points="568.2,280.0 571.9,289.4 574.7,298.8 581.3,304.4 587.5,308.5" fill="none" stroke="#0b840b" stroke-width="2.8" stroke-linecap="round" stroke-linejoin="round"/><polyline points="568.2,280.0 571.9,289.4 574.7,298.8 581.3,304.4 587.5,308.5" fill="none" stroke="#6cc06c" stroke-opacity="0.55" stroke-width="1.7999999999999998" stroke-dasharray="0.7 1.3"/>
<polyline points="557.8,245.0 556.2,254.4 555.2,262.8 554.7,269.1 558.1,272.0 562.7,275.4 563.3,278.8" fill="none" stroke="#0b840b" stroke-width="2.8" stroke-linecap="round" stroke-linejoin="round"/><polyline points="557.8,245.0 556.2,254.4 555.2,262.8 554.7,269.1 558.1,272.0 562.7,275.4 563.3,278.8" fill="none" stroke="#6cc06c" stroke-opacity="0.55" stroke-width="1.7999999999999998" stroke-dasharray="0.7 1.3"/>
<polyline points="574.2,223.9 567.2,229.4 562.5,235.6 559.4,241.9 557.8,245.0" fill="none" stroke="#0b840b" stroke-width="2.8" stroke-linecap="round" stroke-linejoin="round"/><polyline points="574.2,223.9 567.2,229.4 562.5,235.6 559.4,241.9 557.8,245.0" fill="none" stroke="#6cc06c" stroke-opacity="0.55" stroke-width="1.7999999999999998" stroke-dasharray="0.7 1.3"/>
<circle cx="199.4" cy="210.4" r="3.9" fill="#00ff00" stroke="#000" stroke-width="1.15"/>
<circle cx="197.9" cy="220.3" r="3.9" fill="#00ff00" stroke="#000" stroke-width="1.15"/>
<circle cx="208.0" cy="215.1" r="3.9" fill="#00ff00" stroke="#000" stroke-width="1.15"/>
<circle cx="235.6" cy="245.3" r="3.9" fill="#00ff00" stroke="#000" stroke-width="1.15"/>
<circle cx="242.4" cy="244.3" r="3.9" fill="#00ff00" stroke="#000" stroke-width="1.15"/>
<circle cx="237.2" cy="223.4" r="3.9" fill="#00ff00" stroke="#000" stroke-width="1.15"/>
<circle cx="248.1" cy="217.2" r="3.9" fill="#00ff00" stroke="#000" stroke-width="1.15"/>
<circle cx="248.3" cy="196.3" r="3.9" fill="#00ff00" stroke="#000" stroke-width="1.15"/>
<circle cx="263.7" cy="229.1" r="3.9" fill="#00ff00" stroke="#000" stroke-width="1.15"/>
<circle cx="260.8" cy="235.7" r="3.9" fill="#00ff00" stroke="#000" stroke-width="1.15"/>
<circle cx="252.4" cy="260.3" r="3.9" fill="#00ff00" stroke="#000" stroke-width="1.15"/>
<circle cx="190.5" cy="269.5" r="3.9" fill="#00ff00" stroke="#000" stroke-width="1.15"/>
<circle cx="174.5" cy="241.1" r="3.9" fill="#00ff00" stroke="#000" stroke-width="1.15"/>
<circle cx="182.8" cy="244.3" r="3.9" fill="#00ff00" stroke="#000" stroke-width="1.15"/>
<circle cx="172.4" cy="249.5" r="3.9" fill="#00ff00" stroke="#000" stroke-width="1.15"/>
<circle cx="137.5" cy="244.1" r="3.9" fill="#00ff00" stroke="#000" stroke-width="1.15"/>
<circle cx="134.5" cy="264.0" r="3.9" fill="#00ff00" stroke="#000" stroke-width="1.15"/>
<circle cx="159.6" cy="262.9" r="3.9" fill="#00ff00" stroke="#000" stroke-width="1.15"/>
<circle cx="168.3" cy="268.7" r="3.9" fill="#00ff00" stroke="#000" stroke-width="1.15"/>
<circle cx="173.4" cy="269.5" r="3.9" fill="#00ff00" stroke="#000" stroke-width="1.15"/>
<circle cx="166.4" cy="281.1" r="3.9" fill="#00ff00" stroke="#000" stroke-width="1.15"/>
<circle cx="172.4" cy="281.1" r="3.9" fill="#00ff00" stroke="#000" stroke-width="1.15"/>
<circle cx="232.5" cy="160.3" r="3.9" fill="#ffa500" stroke="#000" stroke-width="1.15"/>
<circle cx="216.3" cy="167.5" r="3.9" fill="#ffa500" stroke="#000" stroke-width="1.15"/>
<circle cx="110.5" cy="262.6" r="3.9" fill="#ffa500" stroke="#000" stroke-width="1.15"/>
<circle cx="138.6" cy="294.1" r="3.9" fill="#ffa500" stroke="#000" stroke-width="1.15"/>
<circle cx="138.2" cy="302.4" r="3.9" fill="#ffa500" stroke="#000" stroke-width="1.15"/>
<circle cx="651.6" cy="109.4" r="3.9" fill="#00ff00" stroke="#000" stroke-width="1.15"/>
<circle cx="647.3" cy="141.4" r="3.9" fill="#00ff00" stroke="#000" stroke-width="1.15"/>
<circle cx="537.2" cy="213.4" r="3.9" fill="#00ff00" stroke="#000" stroke-width="1.15"/>
<circle cx="574.2" cy="223.9" r="3.9" fill="#00ff00" stroke="#000" stroke-width="1.15"/>
<circle cx="644.5" cy="194.2" r="3.9" fill="#00ff00" stroke="#000" stroke-width="1.15"/>
<circle cx="658.6" cy="233.3" r="3.9" fill="#00ff00" stroke="#000" stroke-width="1.15"/>
<circle cx="660.2" cy="241.6" r="3.9" fill="#00ff00" stroke="#000" stroke-width="1.15"/>
<circle cx="724.1" cy="162.4" r="3.9" fill="#00ff00" stroke="#000" stroke-width="1.15"/>
<circle cx="736.5" cy="156.2" r="3.9" fill="#00ff00" stroke="#000" stroke-width="1.15"/>
<circle cx="719.5" cy="224.4" r="3.9" fill="#00ff00" stroke="#000" stroke-width="1.15"/>
<circle cx="743.4" cy="240.3" r="3.9" fill="#00ff00" stroke="#000" stroke-width="1.15"/>
<circle cx="718.1" cy="276.2" r="3.9" fill="#00ff00" stroke="#000" stroke-width="1.15"/>
<circle cx="712.5" cy="360.2" r="3.9" fill="#00ff00" stroke="#000" stroke-width="1.15"/>
<circle cx="591.6" cy="364.4" r="3.9" fill="#00ff00" stroke="#000" stroke-width="1.15"/>
<circle cx="530.5" cy="267.7" r="3.9" fill="#00ff00" stroke="#000" stroke-width="1.15"/>
<circle cx="673.8" cy="150.4" r="3.9" fill="#ffa500" stroke="#000" stroke-width="1.15"/>
<circle cx="733.6" cy="191.2" r="3.9" fill="#ffa500" stroke="#000" stroke-width="1.15"/>
<circle cx="740.2" cy="190.2" r="3.9" fill="#ffa500" stroke="#000" stroke-width="1.15"/>
<circle cx="706.4" cy="180.3" r="3.9" fill="#ffa500" stroke="#000" stroke-width="1.15"/>
<circle cx="742.5" cy="219.4" r="3.9" fill="#ffa500" stroke="#000" stroke-width="1.15"/>
<circle cx="762.2" cy="237.2" r="3.9" fill="#ffa500" stroke="#000" stroke-width="1.15"/>
<circle cx="714.4" cy="236.4" r="3.9" fill="#ffa500" stroke="#000" stroke-width="1.15"/>
<circle cx="722.8" cy="266.6" r="3.9" fill="#ffa500" stroke="#000" stroke-width="1.15"/>
<circle cx="665.9" cy="212.5" r="3.9" fill="#ffa500" stroke="#000" stroke-width="1.15"/>
<circle cx="561.4" cy="286.4" r="3.9" fill="#ffa500" stroke="#000" stroke-width="1.15"/>
<circle cx="546.7" cy="265.1" r="3.9" fill="#ffa500" stroke="#000" stroke-width="1.15"/>
<circle cx="522.4" cy="268.3" r="3.9" fill="#ffa500" stroke="#000" stroke-width="1.15"/>
<circle cx="543.0" cy="275.5" r="3.9" fill="#ffa500" stroke="#000" stroke-width="1.15"/>
<circle cx="538.3" cy="283.3" r="3.9" fill="#ffa500" stroke="#000" stroke-width="1.15"/>
<circle cx="538.5" cy="283.8" r="3.9" fill="#ffa500" stroke="#000" stroke-width="1.15"/>
<circle cx="569.5" cy="308.1" r="3.9" fill="#ffa500" stroke="#000" stroke-width="1.15"/>
<circle cx="587.5" cy="312.3" r="3.9" fill="#ffa500" stroke="#000" stroke-width="1.15"/>
<circle cx="547.1" cy="310.0" r="3.9" fill="#ffa500" stroke="#000" stroke-width="1.15"/>
<circle cx="550.3" cy="323.5" r="3.9" fill="#ffa500" stroke="#000" stroke-width="1.15"/>
<circle cx="568.2" cy="322.8" r="3.9" fill="#ffa500" stroke="#000" stroke-width="1.15"/>
<circle cx="568.2" cy="344.2" r="3.9" fill="#ffa500" stroke="#000" stroke-width="1.15"/>
<circle cx="561.6" cy="286.6" r="3.9" fill="#ffa500" stroke="#000" stroke-width="1.15"/>
<circle cx="670.2" cy="149.0" r="3.9" fill="#ff0000" stroke="#000" stroke-width="1.15"/>
<circle cx="688.4" cy="144.3" r="3.9" fill="#ff0000" stroke="#000" stroke-width="1.15"/>
<circle cx="218.4" cy="214.6" r="2" fill="#00ff00" stroke="#000" stroke-width="1.15"/>
<circle cx="238.2" cy="237.0" r="2" fill="#00ff00" stroke="#000" stroke-width="1.15"/>
<circle cx="240.8" cy="237.5" r="2" fill="#00ff00" stroke="#000" stroke-width="1.15"/>
<circle cx="238.8" cy="240.6" r="2" fill="#00ff00" stroke="#000" stroke-width="1.15"/>
<circle cx="231.5" cy="216.1" r="2" fill="#00ff00" stroke="#000" stroke-width="1.15"/>
<circle cx="212.5" cy="223.4" r="2" fill="#00ff00" stroke="#000" stroke-width="1.15"/>
<circle cx="238.3" cy="189.5" r="2" fill="#00ff00" stroke="#000" stroke-width="1.15"/>
<circle cx="255.3" cy="231.7" r="2" fill="#00ff00" stroke="#000" stroke-width="1.15"/>
<circle cx="265.4" cy="239.4" r="2" fill="#00ff00" stroke="#000" stroke-width="1.15"/>
<circle cx="263.7" cy="245.4" r="2" fill="#00ff00" stroke="#000" stroke-width="1.15"/>
<circle cx="249.7" cy="270.5" r="2" fill="#00ff00" stroke="#000" stroke-width="1.15"/>
<circle cx="229.6" cy="270.5" r="2" fill="#00ff00" stroke="#000" stroke-width="1.15"/>
<circle cx="183.3" cy="243.8" r="2" fill="#00ff00" stroke="#000" stroke-width="1.15"/>
<circle cx="181.6" cy="250.5" r="2" fill="#00ff00" stroke="#000" stroke-width="1.15"/>
<circle cx="163.5" cy="235.5" r="2" fill="#00ff00" stroke="#000" stroke-width="1.15"/>
<circle cx="158.4" cy="243.5" r="2" fill="#00ff00" stroke="#000" stroke-width="1.15"/>
<circle cx="163.2" cy="253.4" r="2" fill="#00ff00" stroke="#000" stroke-width="1.15"/>
<circle cx="167.6" cy="255.6" r="2" fill="#00ff00" stroke="#000" stroke-width="1.15"/>
<circle cx="176.3" cy="289.1" r="2" fill="#00ff00" stroke="#000" stroke-width="1.15"/>
<circle cx="137.5" cy="254.6" r="2" fill="#00ff00" stroke="#000" stroke-width="1.15"/>
<circle cx="136.7" cy="271.3" r="2" fill="#00ff00" stroke="#000" stroke-width="1.15"/>
<circle cx="163.7" cy="269.1" r="2" fill="#00ff00" stroke="#000" stroke-width="1.15"/>
<circle cx="177.3" cy="265.5" r="2" fill="#00ff00" stroke="#000" stroke-width="1.15"/>
<circle cx="179.4" cy="269.1" r="2" fill="#00ff00" stroke="#000" stroke-width="1.15"/>
<circle cx="226.3" cy="159.5" r="2" fill="#ffa500" stroke="#000" stroke-width="1.15"/>
<circle cx="227.5" cy="170.5" r="2" fill="#ffa500" stroke="#000" stroke-width="1.15"/>
<circle cx="111.4" cy="267.7" r="2" fill="#ffa500" stroke="#000" stroke-width="1.15"/>
<circle cx="131.3" cy="292.6" r="2" fill="#ffa500" stroke="#000" stroke-width="1.15"/>
<circle cx="146.6" cy="303.4" r="2" fill="#ffa500" stroke="#000" stroke-width="1.15"/>
<circle cx="655.5" cy="142.3" r="2" fill="#00ff00" stroke="#000" stroke-width="1.15"/>
<circle cx="699.7" cy="147.5" r="2" fill="#00ff00" stroke="#000" stroke-width="1.15"/>
<circle cx="649.7" cy="194.5" r="2" fill="#00ff00" stroke="#000" stroke-width="1.15"/>
<circle cx="661.7" cy="234.0" r="2" fill="#00ff00" stroke="#000" stroke-width="1.15"/>
<circle cx="670.6" cy="213.4" r="2" fill="#00ff00" stroke="#000" stroke-width="1.15"/>
<circle cx="743.4" cy="159.4" r="2" fill="#00ff00" stroke="#000" stroke-width="1.15"/>
<circle cx="710.6" cy="182.5" r="2" fill="#00ff00" stroke="#000" stroke-width="1.15"/>
<circle cx="749.7" cy="197.7" r="2" fill="#00ff00" stroke="#000" stroke-width="1.15"/>
<circle cx="747.8" cy="245.2" r="2" fill="#00ff00" stroke="#000" stroke-width="1.15"/>
<circle cx="569.5" cy="304.4" r="2" fill="#00ff00" stroke="#000" stroke-width="1.15"/>
<circle cx="567.8" cy="318.5" r="2" fill="#00ff00" stroke="#000" stroke-width="1.15"/>
<circle cx="587.5" cy="308.5" r="2" fill="#00ff00" stroke="#000" stroke-width="1.15"/>
<circle cx="706.2" cy="366.4" r="2" fill="#00ff00" stroke="#000" stroke-width="1.15"/>
<circle cx="577.7" cy="222.3" r="2" fill="#ffa500" stroke="#000" stroke-width="1.15"/>
<circle cx="543.4" cy="232.4" r="2" fill="#ffa500" stroke="#000" stroke-width="1.15"/>
<circle cx="730.7" cy="165.3" r="2" fill="#ffa500" stroke="#000" stroke-width="1.15"/>
<circle cx="723.4" cy="227.5" r="2" fill="#ffa500" stroke="#000" stroke-width="1.15"/>
<circle cx="725.3" cy="232.5" r="2" fill="#ffa500" stroke="#000" stroke-width="1.15"/>
<circle cx="719.0" cy="241.6" r="2" fill="#ffa500" stroke="#000" stroke-width="1.15"/>
<circle cx="765.6" cy="243.5" r="2" fill="#ffa500" stroke="#000" stroke-width="1.15"/>
<circle cx="726.7" cy="273.6" r="2" fill="#ffa500" stroke="#000" stroke-width="1.15"/>
<circle cx="721.2" cy="282.2" r="2" fill="#ffa500" stroke="#000" stroke-width="1.15"/>
<circle cx="663.3" cy="241.6" r="2" fill="#ffa500" stroke="#000" stroke-width="1.15"/>
<circle cx="524.7" cy="263.0" r="2" fill="#ffa500" stroke="#000" stroke-width="1.15"/>
<circle cx="534.7" cy="257.2" r="2" fill="#ffa500" stroke="#000" stroke-width="1.15"/>
<circle cx="549.0" cy="262.2" r="2" fill="#ffa500" stroke="#000" stroke-width="1.15"/>
<circle cx="542.4" cy="269.1" r="2" fill="#ffa500" stroke="#000" stroke-width="1.15"/>
<circle cx="563.3" cy="278.8" r="2" fill="#ffa500" stroke="#000" stroke-width="1.15"/>
<circle cx="548.5" cy="314.3" r="2" fill="#ffa500" stroke="#000" stroke-width="1.15"/>
<circle cx="564.4" cy="335.3" r="2" fill="#ffa500" stroke="#000" stroke-width="1.15"/>
<circle cx="584.7" cy="357.3" r="2" fill="#ffa500" stroke="#000" stroke-width="1.15"/>
<circle cx="681.1" cy="151.6" r="2" fill="#ff0000" stroke="#000" stroke-width="1.15"/>
<circle cx="684.8" cy="152.6" r="2" fill="#ff0000" stroke="#000" stroke-width="1.15"/>
</svg>
</body></html>
